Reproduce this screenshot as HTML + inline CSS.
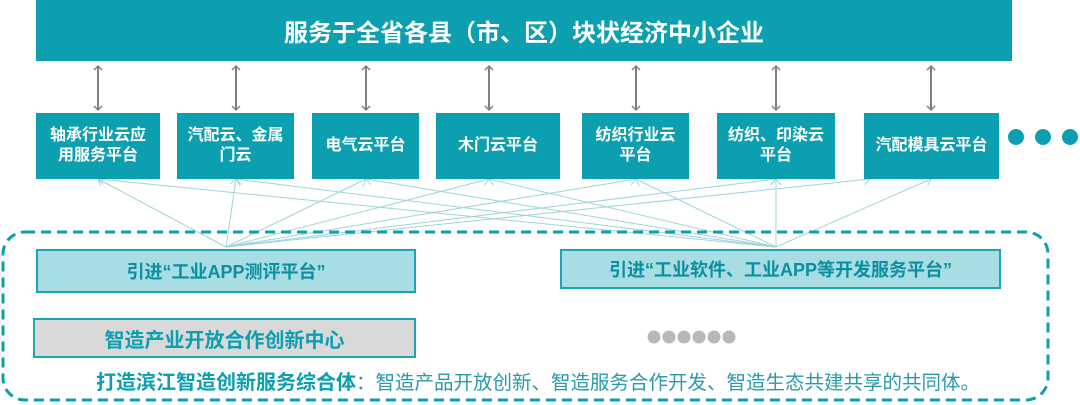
<!DOCTYPE html>
<html><head><meta charset="utf-8"><style>
body{margin:0;width:1080px;height:405px;background:#fff;position:relative;overflow:hidden;font-family:"Liberation Sans","Noto Sans CJK SC",sans-serif}
.a{position:absolute;box-sizing:border-box;display:flex;align-items:center;justify-content:center;text-align:center;white-space:nowrap}
.bx{background:#0b9fb0;color:#fff;font-weight:bold;font-size:16px;line-height:20px}
</style></head><body>
<div class="a" style="left:36px;top:0;width:976px;height:61px;background:#0b9fb0;color:#fff;font-weight:bold;font-size:24px">服务于全省各县（市、区）块状经济中小企业</div>
<svg style="position:absolute;left:0;top:0" width="1080" height="405">
<defs>
<marker id="g" markerWidth="10" markerHeight="10" refX="5" refY="5" orient="auto-start-reverse" markerUnits="userSpaceOnUse"><path d="M1,1 L5,5 L1,9" fill="none" stroke="#808080" stroke-width="1.5"/></marker>
<marker id="l" markerWidth="12" markerHeight="12" refX="6" refY="6" orient="auto-start-reverse" markerUnits="userSpaceOnUse"><path d="M0,1 L6,6 L0,11" fill="none" stroke="#9fd3d9" stroke-width="1"/></marker>
</defs>
<g stroke="#808080" stroke-width="2" marker-start="url(#g)" marker-end="url(#g)">
<line x1="98" y1="66" x2="98" y2="110"/><line x1="236" y1="66" x2="236" y2="110"/><line x1="366" y1="66" x2="366" y2="110"/><line x1="489" y1="66" x2="489" y2="110"/><line x1="636" y1="66" x2="636" y2="110"/><line x1="776" y1="66" x2="776" y2="110"/><line x1="931" y1="66" x2="931" y2="110"/>
</g>
<g stroke="#9fd3d9" stroke-width="1" marker-end="url(#l)">
<line x1="226" y1="247" x2="98" y2="179"/><line x1="226" y1="247" x2="236" y2="179"/><line x1="226" y1="247" x2="366" y2="179"/><line x1="226" y1="247" x2="489" y2="179"/><line x1="226" y1="247" x2="636" y2="179"/><line x1="226" y1="247" x2="776" y2="179"/><line x1="226" y1="247" x2="870" y2="179"/>
<line x1="776" y1="247" x2="98" y2="179"/><line x1="776" y1="247" x2="236" y2="179"/><line x1="776" y1="247" x2="366" y2="179"/><line x1="776" y1="247" x2="489" y2="179"/><line x1="776" y1="247" x2="636" y2="179"/><line x1="776" y1="247" x2="776" y2="179"/><line x1="776" y1="247" x2="931" y2="179"/>
</g>
<rect x="3" y="232" width="1045" height="168" rx="22" fill="none" stroke="#0b9fb0" stroke-width="3" stroke-dasharray="10,6"/>
<g fill="#0b9fb0"><circle cx="1016" cy="137" r="8"/><circle cx="1043" cy="137" r="8"/><circle cx="1070" cy="137" r="8"/></g>
<g fill="#b8b8b8"><circle cx="654" cy="337" r="6.5"/><circle cx="669" cy="337" r="6.5"/><circle cx="684" cy="337" r="6.5"/><circle cx="699" cy="337" r="6.5"/><circle cx="714" cy="337" r="6.5"/><circle cx="729" cy="337" r="6.5"/></g>
</svg>
<div class="a bx" style="left:36px;top:113px;width:124px;height:66px">轴承行业云应<br>用服务平台</div>
<div class="a bx" style="left:177px;top:113px;width:117px;height:66px">汽配云、金属<br>门云</div>
<div class="a bx" style="left:312px;top:113px;width:107px;height:66px">电气云平台</div>
<div class="a bx" style="left:436px;top:113px;width:124px;height:66px">木门云平台</div>
<div class="a bx" style="left:582px;top:113px;width:107px;height:66px">纺织行业云<br>平台</div>
<div class="a bx" style="left:717px;top:113px;width:118px;height:66px">纺织、印染云<br>平台</div>
<div class="a bx" style="left:864px;top:113px;width:135px;height:66px">汽配模具云平台</div>
<div class="a" style="left:36px;top:249px;width:380px;height:44px;background:#a7dde3;border:2px solid #1aa6b6;color:#0b8fa0;font-weight:bold;font-size:18px">引进“工业APP测评平台”</div>
<div class="a" style="left:560px;top:249px;width:441px;height:40px;background:#a7dde3;border:2px solid #1aa6b6;color:#0b8fa0;font-weight:bold;font-size:18px">引进“工业软件、工业APP等开发服务平台”</div>
<div class="a" style="left:33px;top:318px;width:383px;height:40px;background:#d9d9d9;border:2px solid #1aa6b6;color:#0b9fb0;font-weight:bold;font-size:20px">智造产业开放合作创新中心</div>
<div style="position:absolute;left:96px;top:366px;white-space:nowrap;font-size:19.5px;color:#2a9aa8"><b style="font-size:20px;color:#0b9fb0">打造滨江智造创新服务综合体</b>：智造产品开放创新、智造服务合作开发、智造生态共建共享的共同体。</div>
</body></html>
